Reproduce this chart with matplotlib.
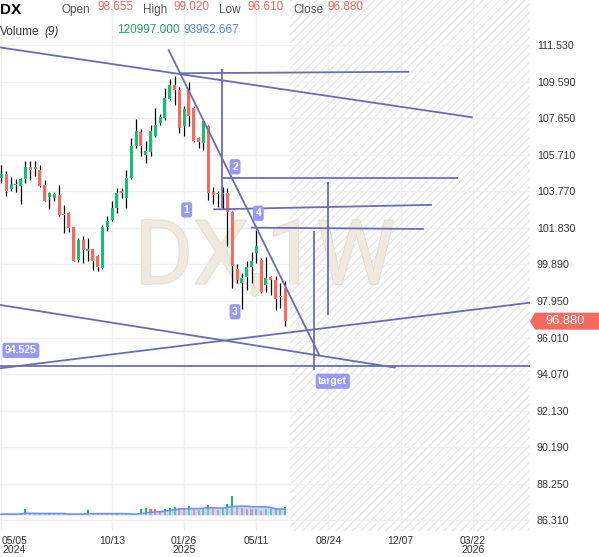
import numpy as np
import pandas as pd
import matplotlib
matplotlib.use("Agg")
import matplotlib.pyplot as plt
import matplotlib.patheffects as pe
from matplotlib.patches import Polygon, Rectangle

plt.rcParams['font.family'] = ['Liberation Sans', 'DejaVu Sans']

# ---------------- data ----------------
symbol = "DX"
start_date = "2024-05-05"
opens = [104.48, 104.69, 103.89, 104.09, 104.03, 104.44, 105.08, 104.96, 104.90, 104.12,
         103.45, 103.41, 103.59, 102.53, 102.62, 101.86, 100.14, 101.20, 100.61, 100.70,
         100.33, 99.69, 101.86, 102.26, 102.88, 103.77, 103.41, 104.48, 106.16, 106.92,
         105.72, 105.86, 106.69, 107.40, 107.67, 108.69, 109.40, 109.13, 107.22, 109.14,
         108.20, 106.60, 106.34, 107.22, 103.73, 103.65, 103.70, 103.68, 102.65, 99.64,
         98.90, 99.21, 99.75, 100.49, 100.14, 98.81, 99.20, 99.07, 98.22, 98.655]
highs = [105.15, 104.83, 104.51, 104.44, 104.48, 105.36, 105.36, 105.40, 105.15, 104.39,
         103.73, 103.73, 104.09, 103.02, 102.67, 101.90, 101.29, 101.38, 101.29, 100.72,
         100.37, 102.00, 102.44, 103.24, 103.95, 103.95, 104.92, 106.60, 107.58, 107.05,
         106.43, 107.31, 108.20, 107.85, 109.25, 109.71, 109.90, 109.30, 108.30, 109.55,
         108.32, 106.66, 107.54, 107.26, 104.00, 103.80, 103.97, 103.95, 102.70, 99.92,
         99.43, 100.05, 100.53, 101.73, 100.22, 100.26, 99.25, 99.25, 98.90, 99.020]
lows = [104.21, 103.50, 103.77, 103.73, 103.10, 104.21, 104.39, 104.57, 103.98, 103.24,
        102.85, 103.27, 102.44, 101.55, 101.61, 100.05, 100.01, 99.96, 100.08, 99.60,
        99.55, 99.66, 101.68, 102.21, 102.62, 103.41, 102.88, 104.44, 106.04, 105.63,
        105.28, 105.63, 106.64, 107.30, 107.55, 108.62, 108.35, 106.85, 106.68, 107.25,
        106.41, 106.07, 105.98, 103.33, 103.10, 102.93, 102.85, 100.85, 98.63, 98.90,
        97.53, 98.54, 98.90, 99.96, 98.37, 98.45, 98.28, 97.48, 97.57, 96.610]
closes = [104.69, 103.77, 104.16, 104.16, 104.44, 105.04, 104.90, 105.04, 104.03, 103.27,
          103.66, 103.63, 102.49, 102.49, 101.82, 100.08, 101.20, 100.67, 100.69, 100.05,
          99.73, 101.86, 102.21, 102.88, 103.68, 103.68, 104.48, 106.16, 106.99, 106.16,
          105.93, 106.96, 107.31, 107.70, 108.70, 109.40, 109.12, 107.14, 108.13, 107.76,
          106.43, 106.37, 107.49, 103.68, 103.59, 103.70, 103.62, 102.65, 99.78, 99.04,
          99.16, 99.75, 100.05, 100.85, 98.45, 99.16, 99.04, 98.05, 98.17, 96.880]
volumes = [14000, 15000, 13000, 16000, 18000, 95000, 15000, 14000, 16000, 15000,
           13000, 14000, 15000, 16000, 14000, 13000, 12000, 16000, 80000, 15000,
           14000, 16000, 15000, 13000, 14000, 12000, 13000, 15000, 16000, 90000,
           105000, 90000, 88000, 42000, 90000, 115000, 121000, 105000, 103000, 141000,
           105000, 79000, 105000, 157000, 105000, 79000, 105000, 173000, 298000, 121000,
           105000, 95000, 92000, 96000, 67000, 96000, 97000, 99667, 82000, 120997]
vol_ma_period = 9

price_ticks = [111.53, 109.59, 107.65, 105.71, 103.77, 101.83, 99.89, 97.95,
               96.01, 94.07, 92.13, 90.19, 88.25, 86.31]
tick_dates = ["2024-05-05", "2024-10-13", "2025-01-26", "2025-05-11",
              "2025-08-24", "2025-12-07", "2026-03-22"]

# drawings: (week index, price) pairs
trend_lines = [
    ((-0.29, 111.40), (97.98, 107.69)),
    ((37.13, 110.03), (84.80, 110.11)),
    ((34.70, 111.30), (66.09, 95.08)),
    ((45.80, 110.24), (45.80, 102.88)),
    ((45.80, 104.46), (94.93, 104.46)),
    ((44.05, 102.81), (89.52, 103.05)),
    ((51.83, 101.84), (87.86, 101.77)),
    ((67.90, 104.28), (67.90, 97.23)),
    ((64.99, 101.68), (64.99, 94.29)),
    ((-0.29, 94.38), (109.90, 97.86)),
    ((-0.29, 97.74), (81.97, 94.41)),
]
support_level = 94.525
marker_labels = [("1", 38.52, 102.78), ("2", 48.57, 105.07), ("3", 48.57, 97.38),
                 ("4", 53.41, 102.60), ("target", 68.9, 93.69)]
support_label_pos = (0.75, 95.33)

# ---------------- styles ----------------
GREEN = '#0fc275'
RED = '#f86a5e'
LINE = '#6b6bb6'
TAG = '#9a9af6'
GRID = '#f0f0f0'

W, H = 599, 557
fig = plt.figure(figsize=(W / 100, H / 100), dpi=100)
PR, PB = 530, 531
ax = fig.add_axes([0, 1 - PB / H, PR / W, PB / H])
XL = (-0.29, 109.9)
YL = (85.747, 113.917)
ax.set_xlim(*XL)
ax.set_ylim(*YL)
for s in ax.spines.values():
    s.set_visible(False)

n = len(closes)
x = np.arange(n)
o = np.array(opens); c = np.array(closes); hi = np.array(highs); lo = np.array(lows)

# volume axis (created first so that the price axis keeps its ticks on the right)
vax = ax.twinx()
vax.set_xlim(*XL)
k = 15714.0
vax.set_ylim(-16 * k, 515 * k)
vax.axis('off')

# future hatched area
ax.add_patch(Rectangle((n, YL[0]), XL[1] - n + 1, YL[1] - YL[0], fill=False,
                       hatch='////', edgecolor='#e8e8e8', linewidth=0, zorder=0.5))

# grid / ticks
start = pd.Timestamp(start_date)
tick_idx, tick_lab = [], []
prev_year = None
for d in tick_dates:
    t = pd.Timestamp(d)
    tick_idx.append((t - start).days / 7)
    lab = t.strftime("%m/%d")
    if prev_year is None or t.year != prev_year:
        lab += "\n" + str(t.year)
    prev_year = t.year
    tick_lab.append(lab)
ax.set_xticks(tick_idx)
ax.set_xticklabels(tick_lab, linespacing=0.95)
ax.set_yticks(price_ticks)
ax.set_yticklabels([f"{v:.3f}" for v in price_ticks])
ax.yaxis.tick_right()
ax.yaxis.set_label_position('right')
ax.tick_params(axis='y', which='both', left=False, labelleft=False, right=False,
               labelright=True, length=0, pad=5, labelsize=7.7, labelcolor='#333333')
ax.tick_params(axis='x', length=0, pad=3.5, labelsize=7.5, labelcolor='#333333')
for lbl in ax.get_xticklabels():
    lbl.set_multialignment('center')
ax.get_xticklabels()[0].set_horizontalalignment('left')
ax.grid(True, color=GRID, lw=1.0, zorder=0)
ax.set_axisbelow(True)

# watermark
ax.text(0.5, 0.512, f"{symbol},1W", transform=ax.transAxes, ha='center', va='center',
        fontsize=64, family=['Roboto', 'DejaVu Sans'], fontweight='normal',
        color='#efe9df', zorder=0.8,
        path_effects=[pe.withStroke(linewidth=1.2, foreground='#e3dbcc')])

# candles
up = c >= o
ax.vlines(x, lo, hi, color='black', lw=0.9, zorder=2)
body_b = np.minimum(o, c)
body_h = np.maximum(np.abs(c - o), 0.05)
ax.bar(x, body_h, bottom=body_b, width=0.62, color=np.where(up, GREEN, RED),
       linewidth=0, zorder=3)

# drawings
for (x0, y0), (x1, y1) in trend_lines:
    ax.plot([x0, x1], [y0, y1], color=LINE, lw=1.3, zorder=4, solid_capstyle='butt')
ax.axhline(support_level, color=LINE, lw=1.3, zorder=4)

for txt, xi, yi in marker_labels:
    ax.text(xi, yi, txt, ha='center', va='center', fontsize=7.5, color='white',
            fontweight='bold', zorder=6,
            bbox=dict(boxstyle='round,pad=0.25,rounding_size=0.25', fc=TAG, ec='none'))
ax.text(support_label_pos[0], support_label_pos[1], f"{support_level:.3f}", ha='left',
        va='center', fontsize=7.5, color='white', fontweight='bold', zorder=6,
        bbox=dict(boxstyle='round,pad=0.25,rounding_size=0.25', fc=TAG, ec='none'))

# volume bars and moving average
v = np.array(volumes, dtype=float)
vcol = [GREEN if i == 0 or v[i] >= v[i - 1] else RED for i in range(n)]
vax.bar(x, v, width=0.42, color=vcol, linewidth=0, zorder=2)
ma = pd.Series(v).rolling(vol_ma_period, min_periods=1).mean().values
vax.fill_between(x, 0, ma, color='#a9bff2', alpha=0.62, linewidth=0, zorder=3)
vax.plot(x, ma, color='#7294e6', lw=1.2, zorder=4)

# price tag at right
fig.canvas.draw()
yc = ax.transData.transform((0, closes[-1]))[1]
tag = Polygon([(530, yc), (535, yc - 8.5), (599, yc - 8.5), (599, yc + 8.5), (535, yc + 8.5)],
              closed=True, transform=None, facecolor='#f6695e', edgecolor='none', zorder=10)
fig.add_artist(tag)
fig.text(565 / W, yc / H, f"{closes[-1]:.3f}", ha='center', va='center', color='white',
         fontsize=9.3, zorder=11)

# header
def P(px, py):
    return px / W, 1 - py / H

HDR = '#555555'
fig.text(*P(0, 14), symbol, fontsize=11, fontweight='bold', color='black', va='baseline')
items = [("Open", 62, opens[-1], 97), ("High", 142.5, highs[-1], 173.5),
         ("Low", 219.5, lows[-1], 247.5), ("Close", 293.5, closes[-1], 327)]
for name, lx, val, vx in items:
    fig.text(*P(lx, 12.7), name, fontsize=8.5, color=HDR, va='baseline')
    fig.text(*P(vx, 9.5), f"{val:.3f}", fontsize=8.5, color='#ef6a60', va='baseline')
fig.text(*P(0, 35), "Volume", fontsize=8.5, color='#333333', va='baseline')
fig.text(*P(44, 35), f"({vol_ma_period})", fontsize=8.5, color='#333333', va='baseline',
         style='italic')
fig.text(*P(117.5, 32.7), f"{volumes[-1]:.3f}", fontsize=8.5, color='#1ea463', va='baseline')
fig.text(*P(184, 32.7), f"{ma[-1]:.3f}", fontsize=8.5, color='#4a82e6', va='baseline')

fig.savefig("out.png", dpi=100)
